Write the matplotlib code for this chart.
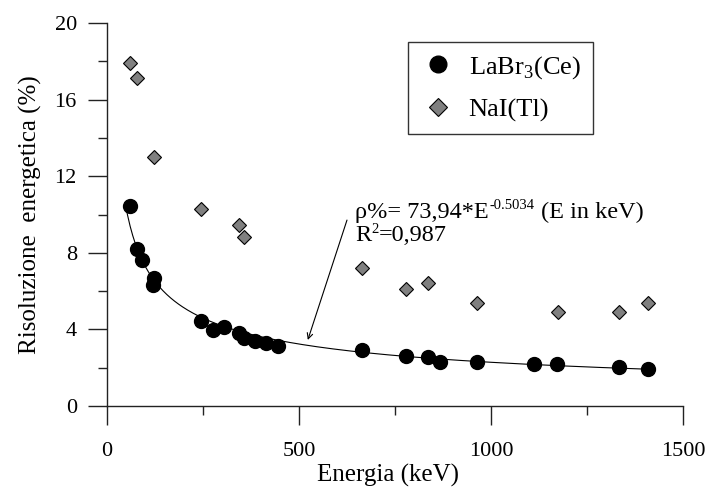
import numpy as np
import matplotlib
matplotlib.use("Agg")
import matplotlib.pyplot as plt
from matplotlib.ticker import MultipleLocator
from matplotlib.transforms import offset_copy

plt.rcParams['font.family'] = ['Liberation Serif', 'DejaVu Serif']
plt.rcParams['mathtext.fontset'] = 'custom'
plt.rcParams['mathtext.rm'] = 'Liberation Serif'

# LaBr3(Ce) resolution vs energy
labr_energy = [60, 79, 90, 122, 121, 245, 275, 305, 344, 357, 385, 413, 446,
               663, 779, 835, 867, 964, 1113, 1173, 1333, 1410]
labr_res = [10.45, 8.18, 7.62, 6.67, 6.32, 4.46, 3.97, 4.11, 3.83, 3.53, 3.39,
            3.27, 3.13, 2.92, 2.61, 2.58, 2.32, 2.28, 2.18, 2.18, 2.05, 1.93]

# NaI(Tl) resolution vs energy
nai_energy = [60, 79, 122, 244, 344, 357, 663, 779, 835, 964, 1175, 1334, 1410]
nai_res = [17.9, 17.15, 13.02, 10.27, 9.44, 8.83, 7.19, 6.09, 6.44, 5.40,
           4.89, 4.89, 5.36]

# power-law fit given in the chart
fit_a = 73.94
fit_b = -0.5034
fit_range = (50, 1410)

fig = plt.figure(figsize=(7.08, 4.88), dpi=100)
ax = fig.add_axes([0.1511, 0.168, 0.8136, 0.7848])

e_fit = np.linspace(fit_range[0], fit_range[1], 400)
ax.plot(e_fit, fit_a * e_fit ** fit_b, color='black', lw=0.8, zorder=2)

ax.plot(labr_energy, labr_res, 'o', color='black', ms=10, ls='none',
        label='LaBr$_3$(Ce)', zorder=3)
ax.plot(nai_energy, nai_res, 'D', color='#808080', mec='black', mew=0.8,
        ms=7.5, ls='none', label='NaI(Tl)', zorder=3)

ax.set_xlim(0, 1500)
ax.set_ylim(0, 20)
for s in ['top', 'right']:
    ax.spines[s].set_visible(False)
for s in ['left', 'bottom']:
    ax.spines[s].set_linewidth(1.0)
    ax.spines[s].set_color('#222222')

ax.xaxis.set_major_locator(MultipleLocator(500))
ax.xaxis.set_minor_locator(MultipleLocator(250))
ax.yaxis.set_major_locator(MultipleLocator(4))
ax.yaxis.set_minor_locator(MultipleLocator(2))
ax.tick_params(which='major', direction='out', length=13.7, width=1.0,
               color='#222222', labelsize=16)
ax.tick_params(which='minor', direction='out', length=6.5, width=1.0,
               color='#222222')
ax.tick_params(axis='x', which='major', pad=12.5)
ax.tick_params(axis='y', which='major', pad=8)

ax.set_xlabel('Energia (keV)', fontsize=18)
ax.xaxis.set_label_coords(0.488, -0.150)
ax.xaxis.label.set_va('top')
ax.set_ylabel('Risoluzione  energetica (%)', fontsize=18, labelpad=9)

# fit equation, written piece by piece so the exponent keeps a plain hyphen
def text_run(x, y, pieces):
    fig.canvas.draw()
    r = fig.canvas.get_renderer()
    dx = 0
    for txt, size, rise, gap in pieces:
        dx += gap
        tr = offset_copy(ax.transData, fig=fig, x=dx, y=rise, units='points')
        t = ax.text(x, y, txt, fontsize=size, va='baseline', ha='left',
                    transform=tr)
        dx += t.get_window_extent(r).width * 72 / fig.dpi


text_run(646, 9.82, [('ρ%= 73,94*E', 17.5, 0, 0),
                     ('-0.5034', 10.5, 6.8, 0.5),
                     ('(E in keV)', 17.5, 0, 4.5)])
text_run(646, 8.62, [('R', 17.5, 0, 0),
                     ('2', 10.5, 5.5, 0.3),
                     ('=0,987', 17.5, 0, 0)])

ax.annotate('', xy=(523, 3.45), xytext=(625, 9.71),
            arrowprops=dict(arrowstyle='->', color='black', lw=0.8,
                            shrinkA=0, shrinkB=0))

leg = ax.legend(loc='upper left', bbox_to_anchor=(0.5226, 0.950),
                borderaxespad=0, fontsize=19, frameon=True, fancybox=False,
                edgecolor='black', handletextpad=0.45, borderpad=0.45,
                labelspacing=0.65, markerscale=1.2, handlelength=1.4)
leg.get_frame().set_linewidth(1.0)

fig.savefig('out.png', dpi=100)
